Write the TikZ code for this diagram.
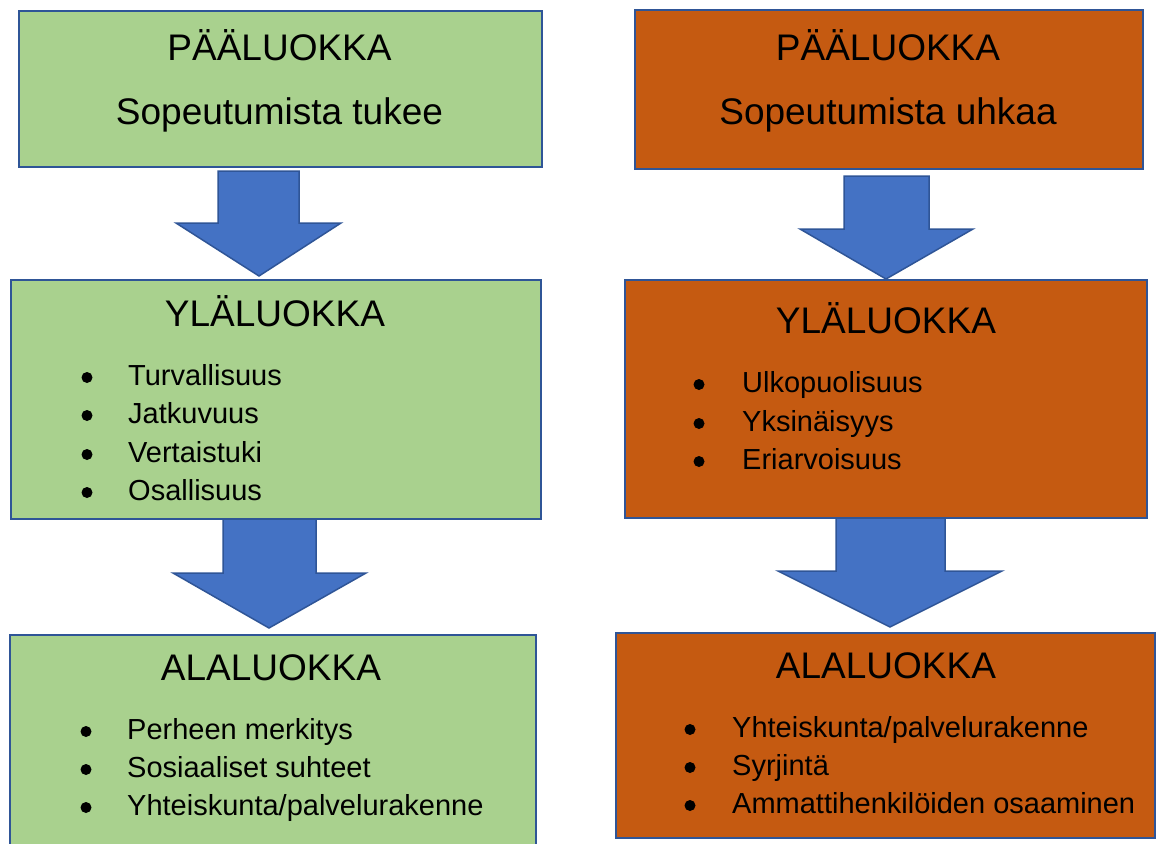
\documentclass[tikz,border=0pt]{standalone}
\usepackage{fontspec}
\setmainfont{Liberation Sans}
\definecolor{boxgreen}{HTML}{A9D18E}
\definecolor{boxorange}{HTML}{C55A11}
\definecolor{arrowblue}{HTML}{4472C4}
\definecolor{edgeblue}{HTML}{2F5597}
\tikzset{
  box/.style={draw=edgeblue, line width=2pt, rectangle, inner sep=0pt, anchor=north west},
  gbox/.style={box, fill=boxgreen},
  obox/.style={box, fill=boxorange},
  blockarrow/.style={draw=edgeblue, line width=1.5pt, fill=arrowblue, line join=miter},
  title/.style={font=\fontsize{37}{44}\selectfont, anchor=base, inner sep=0pt, text=black},
  item/.style={font=\fontsize{29}{35}\selectfont, anchor=base west, inner sep=0pt, text=black},
  bul/.style={circle, fill=black, inner sep=0pt, minimum size=11pt, yshift=7.5pt}
}
\begin{document}
\begin{tikzpicture}[x=1pt, y=-1pt]
\useasboundingbox (0,0) rectangle (1161,843);
\clip (0,0) rectangle (1161,843);
\fill[white] (0,0) rectangle (1161,843);

% block arrows
\draw[blockarrow] (218,171) -- (299,171) -- (299,223) -- (341,223) -- (259,276) -- (176,223) -- (218,223) -- cycle;
\draw[blockarrow] (844,176) -- (929,176) -- (929,229) -- (973,229) -- (886,279) -- (800,229) -- (844,229) -- cycle;
\draw[blockarrow] (223,515) -- (316,515) -- (316,573) -- (366,573) -- (269,628) -- (173,573) -- (223,573) -- cycle;
\draw[blockarrow] (836,514) -- (945,514) -- (945,571) -- (1002,571) -- (890,627) -- (778,571) -- (836,571) -- cycle;

% left column
\node[gbox, minimum width=523pt, minimum height=156pt] (l1) at (18,10) {};
\node[gbox, minimum width=530pt, minimum height=239pt] (l2) at (10,279) {};
\node[gbox, minimum width=526pt, minimum height=230pt] (l3) at (9,634) {};

% right column
\node[obox, minimum width=508pt, minimum height=159pt] (r1) at (634,9) {};
\node[obox, minimum width=522pt, minimum height=238pt] (r2) at (624,279) {};
\node[obox, minimum width=539pt, minimum height=205pt] (r3) at (615,632) {};

% left texts
\node[title] (l1a) at (279.5,60) {PÄÄLUOKKA};
\node[title] (l1b) at (279.5,124) {Sopeutumista tukee};
\node[title] (l2t) at (275,326) {YLÄLUOKKA};
\node[bul] (l2b1) at (87,385) {};
\node[item] (l2i1) at (128,385) {Turvallisuus};
\node[bul] (l2b2) at (87,423) {};
\node[item] (l2i2) at (128,423) {Jatkuvuus};
\node[bul] (l2b3) at (87,462) {};
\node[item] (l2i3) at (128,462) {Vertaistuki};
\node[bul] (l2b4) at (87,500) {};
\node[item] (l2i4) at (128,500) {Osallisuus};
\node[title] (l3t) at (271,680) {ALALUOKKA};
\node[bul] (l3b1) at (86,739) {};
\node[item] (l3i1) at (127,739) {Perheen merkitys};
\node[bul] (l3b2) at (86,777) {};
\node[item] (l3i2) at (127,777) {Sosiaaliset suhteet};
\node[bul] (l3b3) at (86,815) {};
\node[item] (l3i3) at (127,815) {Yhteiskunta/palvelurakenne};

% right texts
\node[title] (r1a) at (888,60) {PÄÄLUOKKA};
\node[title] (r1b) at (888,124) {Sopeutumista uhkaa};
\node[title] (r2t) at (886,333) {YLÄLUOKKA};
\node[bul] (r2b1) at (699,392) {};
\node[item] (r2i1) at (742,392) {Ulkopuolisuus};
\node[bul] (r2b2) at (699,431) {};
\node[item] (r2i2) at (742,431) {Yksinäisyys};
\node[bul] (r2b3) at (699,469) {};
\node[item] (r2i3) at (742,469) {Eriarvoisuus};
\node[title] (r3t) at (886,678) {ALALUOKKA};
\node[bul] (r3b1) at (690,737) {};
\node[item] (r3i1) at (732,737) {Yhteiskunta/palvelurakenne};
\node[bul] (r3b2) at (690,775) {};
\node[item] (r3i2) at (732,775) {Syrjintä};
\node[bul] (r3b3) at (690,813) {};
\node[item] (r3i3) at (732,813) {Ammattihenkilöiden osaaminen};
\end{tikzpicture}
\end{document}
